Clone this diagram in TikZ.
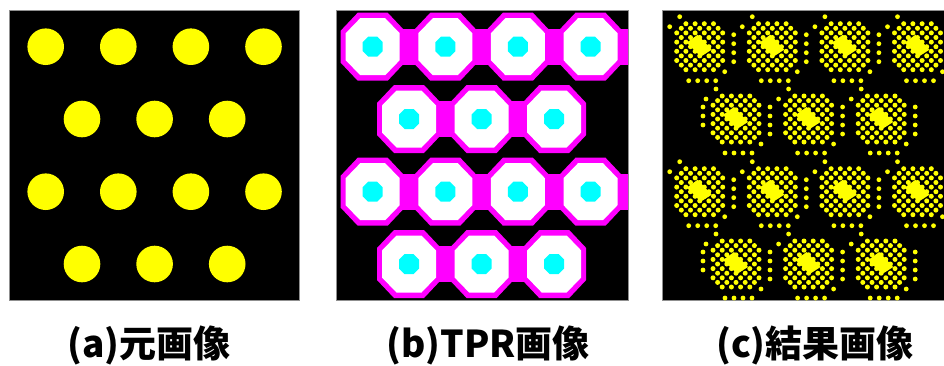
\documentclass[tikz,border=0pt]{standalone}
\usepackage{fontspec}
\newfontfamily\cjk{Noto Sans CJK JP}
\usepackage{tikz}
\definecolor{Spot}{HTML}{FFFF00}
\definecolor{Ring}{HTML}{FF00FF}
\definecolor{Core}{HTML}{00FFFF}
\definecolor{Frame}{HTML}{8F8F8F}
% octagon: half width, half height, flat half width, flat half height
\newcommand{\octagon}[4]{(#3,#2) -- (#1,#4) -- (#1,-#4) -- (#3,-#2) -- (-#3,-#2) -- (-#1,-#4) -- (-#1,#4) -- (-#3,#2) -- cycle}
\def\centres{45.7/46.7,118.3/46.7,190.9/46.7,263.5/46.7,82/119,154.6/119,227.2/119,45.7/191.7,118.3/191.7,190.9/191.7,263.5/191.7,82/264,154.6/264,227.2/264}
\tikzset{
  panel/.style={fill=black,draw=Frame,line width=0.8pt},
  spot/.style={fill=Spot},
  ring/.style={fill=Ring},
  hole/.style={fill=white},
  core/.style={fill=Core},
  grain/.style={fill=Spot},
  caption/.style={font=\cjk\bfseries\fontsize{37}{40}\selectfont,anchor=base,inner sep=0pt}
}
\begin{document}
\begin{tikzpicture}[x=1pt,y=-1pt]
  \useasboundingbox (0,0) rectangle (944,365);
  % (a) source image
  \draw[panel] (9.5,10.5) rectangle (299.5,300.5);
  \foreach \cx/\cy in \centres {
    \fill[spot] (\cx,\cy) circle[radius=18.3];
  }
  % (b) TPR image
  \draw[panel] (336,10.5) rectangle (628,300.5);
  \begin{scope}
    \clip (336,10.5) rectangle (628,300.5);
    \foreach \cy in {46.7,191.7} {
      \foreach \cx in {45.7,118.3,190.9,263.5} {
        \fill[ring] (\cx+327,\cy-18) rectangle (\cx+327+72.6,\cy+18);
      }
    }
    \foreach \cy in {119,264} {
      \foreach \cx in {82,154.6} {
        \fill[ring] (\cx+327,\cy-18) rectangle (\cx+327+72.6,\cy+18);
      }
    }
    \foreach \cx/\cy in \centres {
      \begin{scope}[shift={(\cx+327,\cy)}]
        \fill[ring] \octagon{32}{34}{15}{16};
        \fill[hole] \octagon{27}{28.5}{12.5}{13.5};
        \fill[core] \octagon{10}{10}{4.5}{4.5};
      \end{scope}
    }
  \end{scope}
  % (c) result image
  \draw[panel] (662,10.5) rectangle (946,300.5);
  \begin{scope}
    \clip (662,10.5) rectangle (946,300.5);
    \foreach \cx/\cy in \centres {
      \begin{scope}[shift={(\cx+654,\cy)}]
        \foreach \i in {-5,...,5} {
          \foreach \j in {-5,...,5} {
            \pgfmathtruncatemacro\keep{(mod(\i+\j+20,2)==0) && (abs(\i)+abs(\j)<=8)}
            \ifnum\keep=1
              \fill[grain] (4.6*\i,4.6*\j) circle[radius=2.5];
            \fi
          }
        }
        \fill[grain] (-13,-4) -- (-2,-12) -- (12,3) -- (1,10) -- cycle;
        \foreach \dx/\dy in {-20/-30,-30/-20,25/25,-11/34,-2/34,7/34,16/34,34/-12,34/-3,34/6,34/15} {
          \fill[grain] (\dx,\dy) circle[radius=2.4];
        }
      \end{scope}
    }
    \foreach \cy in {119,264} {
      \foreach \dy in {-12,-3,6} {
        \fill[grain] (82+654-33,\cy+\dy) circle[radius=2.4];
      }
    }
  \end{scope}
  % captions
  \node[caption] (capa) at (149,357) {(a)元画像};
  \node[caption] (capb) at (488,357) {(b)TPR画像};
  \node[caption] (capc) at (815,357) {(c)結果画像};
\end{tikzpicture}
\end{document}
